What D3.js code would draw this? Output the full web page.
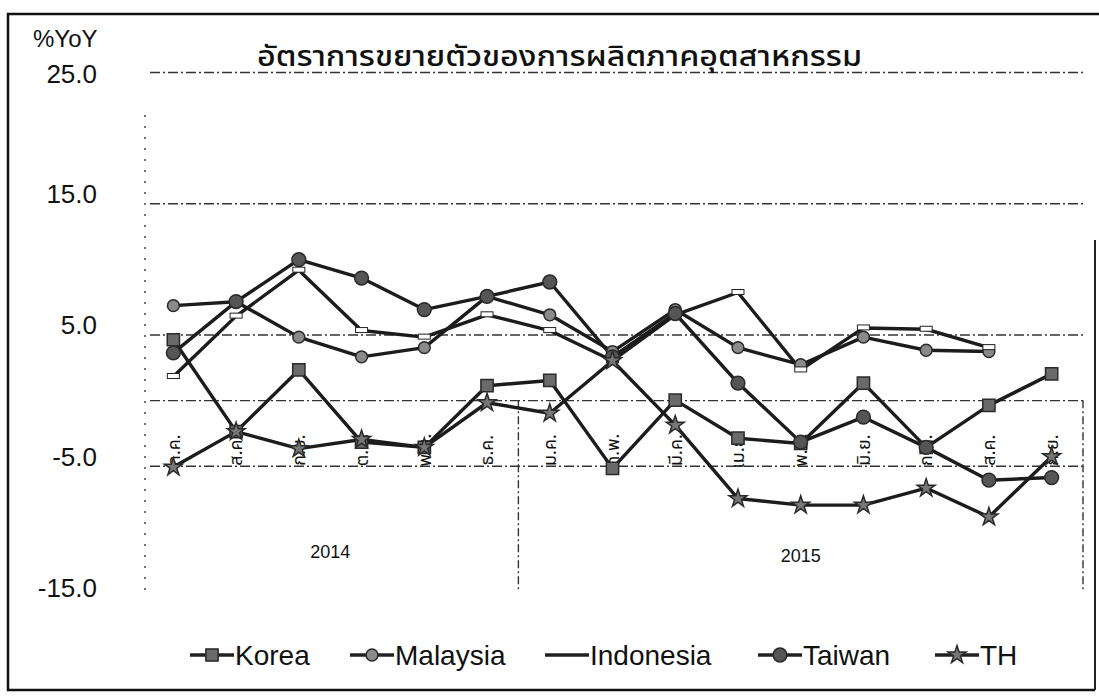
<!DOCTYPE html>
<meta charset="utf-8">
<script src="https://d3js.org/d3.v7.min.js"></script>
<style>
body { margin: 0; background: #fff; }
text { font-family: "Liberation Sans", Arial, sans-serif; fill: #111; }
.thai { font-family: "Noto Sans Thai", "Noto Sans", "DejaVu Sans", sans-serif; }
.grid line { stroke: #333; stroke-width: 1.4px; stroke-dasharray: 10,3,2,3; }
.series { fill: none; stroke: #1c1c1c; stroke-width: 3.4px; stroke-linejoin: round; }
</style>
<body>
<script>

// category labels (Thai month abbreviations) and year groups
var months = ["ก.ค.", "ส.ค.", "ก.ย.", "ต.ค.", "พ.ย.", "ธ.ค.",
              "ม.ค.", "ก.พ.", "มี.ค.", "เม.ย.", "พ.ค.", "มิ.ย.", "ก.ค.", "ส.ค.", "ก.ย."];
var yearLabels = ["2014", "2015"];
var yearCounts = [6, 9];

// %YoY values
var korea     = [4.6, -2.4, 2.3, -3.2, -3.6, 1.1, 1.5, -5.2, 0.0, -2.9, -3.3, 1.3, -3.6, -0.4, 2.0];
var malaysia  = [7.2, 7.5, 4.8, 3.3, 4.0, 7.9, 6.5, 3.7, 6.9, 4.0, 2.7, 4.8, 3.8, 3.7, null];
var indonesia = [1.8, 6.4, 9.9, 5.3, 4.8, 6.5, 5.3, 3.0, 6.5, 8.2, 2.3, 5.5, 5.4, 4.0, null];
var taiwan    = [3.6, 7.5, 10.7, 9.3, 6.9, 7.9, 9.0, 3.3, 6.6, 1.3, -3.2, -1.3, -3.6, -6.1, -5.9];
var th        = [-5.1, -2.4, -3.7, -3.0, -3.6, -0.2, -1.0, 3.0, -1.9, -7.5, -8.0, -8.0, -6.7, -8.9, -4.3];

var seriesNames = ["Korea", "Malaysia", "Indonesia", "Taiwan", "TH"];
var yTicks = [-15, -5, 5, 15, 25];

var series = [
  {name: seriesNames[0], values: korea,     symbol: d3.symbolSquare, size: 150, fill: "#6a6a6a"},
  {name: seriesNames[1], values: malaysia,  symbol: d3.symbolCircle, size: 110, fill: "#8a8a8a"},
  {name: seriesNames[2], values: indonesia, symbol: null},
  {name: seriesNames[3], values: taiwan,    symbol: d3.symbolCircle, size: 150, fill: "#555"},
  {name: seriesNames[4], values: th,        symbol: d3.symbolStar,   size: 100, fill: "#777"}
];

var width = 1099, height = 697;
var plot = {left: 142, right: 1083, top: 72, bottom: 597};

var svg = d3.select("body").append("svg")
    .attr("width", width)
    .attr("height", height);

// outer frame
svg.append("path")
    .attr("d", "M1099,14 H8 V690 H1095")
    .attr("fill", "none")
    .attr("stroke", "#111")
    .attr("stroke-width", 2.5);
svg.append("line")
    .attr("x1", 1095).attr("x2", 1095).attr("y1", 240).attr("y2", 690)
    .attr("stroke", "#222").attr("stroke-width", 2);

var x = d3.scaleBand()
    .domain(d3.range(months.length))
    .range([plot.left, plot.right]);

var y = d3.scaleLinear()
    .domain([-15, 25])
    .range([plot.bottom, plot.top]);

var cx = function(i) { return x(i) + x.bandwidth() / 2; };

// gridlines
svg.append("g")
    .attr("class", "grid")
    .attr("transform", "translate(" + plot.left + ",0)")
    .call(d3.axisLeft(y).tickValues([-5, 0, 5, 15, 25]).tickSize(-(plot.right + 2 - plot.left)).tickFormat(""))
    .call(function(g) { g.select(".domain").remove(); })
    .selectAll("line")
    .attr("x1", 8);

// y axis labels
svg.append("g")
    .attr("transform", "translate(" + plot.left + ",0)")
    .call(d3.axisLeft(y).tickValues(yTicks).tickSize(0).tickPadding(45)
      .tickFormat(function(d) { return d.toFixed(1); }))
    .call(function(g) { g.select(".domain").remove(); })
    .selectAll("text")
    .attr("dy", function(d) { return d === 25 ? "0.4em" : "-0.02em"; })
    .style("font-size", "26px");

// dotted y-axis line
svg.append("line")
    .attr("x1", plot.left + 3).attr("x2", plot.left + 3)
    .attr("y1", 115).attr("y2", plot.bottom)
    .attr("stroke", "#444").attr("stroke-width", 1.5)
    .attr("stroke-dasharray", "2,9");

// "%YoY" unit
svg.append("text")
    .attr("x", 33).attr("y", 47)
    .style("font-size", "24px")
    .text("%YoY");

// title
svg.append("text")
    .attr("class", "thai")
    .attr("x", 257).attr("y", 66)
    .attr("textLength", 605)
    .attr("lengthAdjust", "spacingAndGlyphs")
    .style("font-size", "28px")
    .style("font-weight", "500")
    .text("อัตราการขยายตัวของการผลิตภาคอุตสาหกรรม");

// category axis: month labels rotated
var xAxis = svg.append("g")
    .attr("transform", "translate(0," + y(0) + ")")
    .call(d3.axisBottom(x).tickSize(0).tickFormat(function(i) { return months[i]; }))
    .call(function(g) { g.select(".domain").remove(); });
xAxis.selectAll("text")
    .attr("class", "thai")
    .attr("text-anchor", "middle")
    .attr("y", 0)
    .attr("dy", "0.35em")
    .attr("transform", "translate(0,50) rotate(-90)")
    .style("font-size", "18px");

// year group dividers and labels
var groupStart = 0;
yearLabels.forEach(function(label, k) {
  var x0 = x(groupStart), x1 = x(groupStart + yearCounts[k] - 1) + x.bandwidth();
  svg.append("text")
      .attr("x", (x0 + x1) / 2)
      .attr("y", 558 + k * 4)
      .attr("text-anchor", "middle")
      .style("font-size", "18px")
      .text(label);
  if (k > 0) {
    svg.append("line")
        .attr("x1", x0).attr("x2", x0)
        .attr("y1", y(0)).attr("y2", 592)
        .attr("stroke", "#333").attr("stroke-width", 1.4)
        .attr("stroke-dasharray", "8,3,2,3");
  }
  groupStart += yearCounts[k];
});
svg.append("line")
    .attr("x1", plot.right).attr("x2", plot.right)
    .attr("y1", y(0)).attr("y2", 592)
    .attr("stroke", "#333").attr("stroke-width", 1.4)
    .attr("stroke-dasharray", "8,3,2,3");

// series lines
var line = d3.line()
    .defined(function(d) { return d != null; })
    .x(function(d, i) { return cx(i); })
    .y(function(d) { return y(d); });

svg.append("g").selectAll("path")
    .data(series)
  .enter().append("path")
    .attr("class", "series")
    .attr("d", function(s) { return line(s.values); });

// markers
series.forEach(function(s) {
  var pts = s.values.map(function(v, i) { return {v: v, i: i}; })
      .filter(function(p) { return p.v != null; });
  if (s.symbol) {
    svg.append("g").selectAll("path")
        .data(pts)
      .enter().append("path")
        .attr("d", d3.symbol().type(s.symbol).size(s.size))
        .attr("transform", function(p) { return "translate(" + cx(p.i) + "," + y(p.v) + ")"; })
        .attr("fill", s.fill)
        .attr("stroke", "#2a2a2a")
        .attr("stroke-width", 1.5);
  } else {
    svg.append("g").selectAll("rect")
        .data(pts)
      .enter().append("rect")
        .attr("x", function(p) { return cx(p.i) - 6; })
        .attr("y", function(p) { return y(p.v) - 3; })
        .attr("width", 12).attr("height", 5)
        .attr("fill", "#fff")
        .attr("stroke", "#222")
        .attr("stroke-width", 1);
  }
});

// legend
var legendX = [190, 350, 545, 758, 935];
var legend = svg.append("g").selectAll("g")
    .data(series)
  .enter().append("g")
    .attr("transform", function(s, k) { return "translate(" + legendX[k] + ",655)"; });

legend.append("line")
    .attr("x1", 0).attr("x2", 44)
    .attr("stroke", "#222").attr("stroke-width", 3.4);

legend.filter(function(s) { return s.symbol; }).append("path")
    .attr("d", function(s) { return d3.symbol().type(s.symbol).size(s.size)(); })
    .attr("transform", "translate(22,0)")
    .attr("fill", function(s) { return s.fill; })
    .attr("stroke", "#2a2a2a")
    .attr("stroke-width", 1.5);

legend.append("text")
    .attr("x", 45)
    .attr("y", 10)
    .style("font-size", "28px")
    .text(function(s) { return s.name; });

</script>
</body>
